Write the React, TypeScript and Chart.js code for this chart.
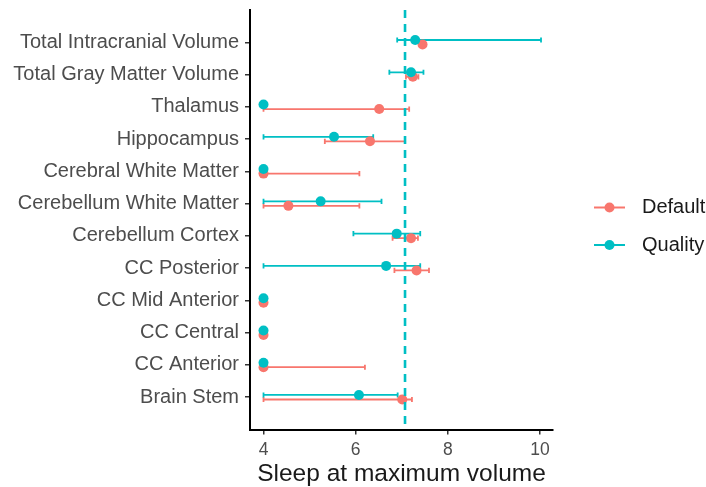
import React, { useEffect, useRef } from "react";
import { Chart, registerables } from "chart.js";

Chart.register(...registerables);

const categories = [
  "Total Intracranial Volume",
  "Total Gray Matter Volume",
  "Thalamus",
  "Hippocampus",
  "Cerebral White Matter",
  "Cerebellum White Matter",
  "Cerebellum Cortex",
  "CC Posterior",
  "CC Mid Anterior",
  "CC Central",
  "CC Anterior",
  "Brain Stem",
];

const defaultValues = [7.45, 7.24, 6.51, 6.31, 4.0, 4.54, 7.2, 7.32, 4.0, 4.0, 4.0, 7.01];
const defaultLow: (number | null)[] = [7.4, 7.09, 4.0, 5.33, 4.0, 4.0, 6.8, 6.84, null, null, 4.0, 4.0];
const defaultHigh: (number | null)[] = [7.52, 7.36, 7.16, 7.07, 6.08, 6.08, 7.35, 7.59, null, null, 6.2, 7.22];

const qualityValues = [7.29, 7.2, 4.0, 5.53, 4.0, 5.24, 6.89, 6.66, 4.0, 4.0, 4.0, 6.07];
const qualityLow: (number | null)[] = [6.9, 6.73, null, 4.0, null, 4.0, 5.95, 4.0, null, null, null, 4.0];
const qualityHigh: (number | null)[] = [10.02, 7.47, null, 6.38, null, 6.56, 7.4, 7.4, null, null, null, 6.91];

const xTicks = [4, 6, 8, 10];
const referenceLine = 7.07;

const seriesNames = ["Default", "Quality"];
const RED = "#F8766D";
const TEAL = "#00BFC4";
const FONT = "'Liberation Sans', Arial, Helvetica, sans-serif";
const DODGE = 0.07;

export default function App() {
  const ref = useRef<HTMLCanvasElement>(null);

  useEffect(() => {
    document.body.style.margin = "0";
    const canvas = ref.current;
    if (!canvas) return;

    const series = [
      { name: seriesNames[0], color: RED, values: defaultValues, low: defaultLow, high: defaultHigh, off: DODGE },
      { name: seriesNames[1], color: TEAL, values: qualityValues, low: qualityLow, high: qualityHigh, off: -DODGE },
    ];

    const plugin = {
      id: "custom",
      beforeDatasetsDraw(chart: any) {
        const { ctx, scales } = chart;
        const xs = scales.x;
        const ys = scales.y;
        ctx.save();
        ctx.lineWidth = 1.8;
        for (const s of series) {
          ctx.strokeStyle = s.color;
          s.values.forEach((_, i) => {
            const lo = s.low[i];
            const hi = s.high[i];
            if (lo == null || hi == null) return;
            const y = ys.getPixelForValue(i + 1 + s.off);
            const cap = Math.abs(ys.getPixelForValue(i + 1 + s.off + 0.08) - y);
            const x1 = xs.getPixelForValue(lo);
            const x2 = xs.getPixelForValue(hi);
            ctx.beginPath();
            ctx.moveTo(x1, y);
            ctx.lineTo(x2, y);
            ctx.moveTo(x1, y - cap);
            ctx.lineTo(x1, y + cap);
            ctx.moveTo(x2, y - cap);
            ctx.lineTo(x2, y + cap);
            ctx.stroke();
          });
        }
        ctx.restore();
      },
      afterDatasetsDraw(chart: any) {
        const { ctx, scales, chartArea } = chart;
        const x = scales.x.getPixelForValue(referenceLine);
        ctx.save();
        ctx.strokeStyle = TEAL;
        ctx.lineWidth = 2.6;
        ctx.setLineDash([8, 6]);
        ctx.beginPath();
        ctx.moveTo(x, chartArea.top);
        ctx.lineTo(x, chartArea.bottom);
        ctx.stroke();
        ctx.restore();
      },
      afterDraw(chart: any) {
        const { ctx } = chart;
        ctx.save();
        const ys = [207.5, 245];
        series.forEach((s, k) => {
          const y = ys[k];
          ctx.strokeStyle = s.color;
          ctx.lineWidth = 2;
          ctx.beginPath();
          ctx.moveTo(594, y);
          ctx.lineTo(625, y);
          ctx.stroke();
          ctx.fillStyle = s.color;
          ctx.beginPath();
          ctx.arc(609.5, y, 5, 0, Math.PI * 2);
          ctx.fill();
          ctx.fillStyle = "#1a1a1a";
          ctx.font = `20px ${FONT}`;
          ctx.textBaseline = "middle";
          ctx.textAlign = "left";
          ctx.fillText(s.name, 642, y);
        });
        ctx.restore();
      },
    };

    const chart = new Chart(canvas, {
      type: "scatter",
      data: {
        datasets: [
          {
            label: seriesNames[1],
            order: 0,
            data: qualityValues.map((v, i) => ({ x: v, y: i + 1 - DODGE })),
            backgroundColor: TEAL,
            borderWidth: 0,
            pointRadius: 5,
          },
          {
            label: seriesNames[0],
            order: 1,
            data: defaultValues.map((v, i) => ({ x: v, y: i + 1 + DODGE })),
            backgroundColor: RED,
            borderWidth: 0,
            pointRadius: 5,
          },
        ],
      },
      options: {
        responsive: false,
        animation: false,
        events: [],
        layout: { padding: { top: 10, right: 153, left: 0, bottom: 0 } },
        plugins: { legend: { display: false }, tooltip: { enabled: false } },
        scales: {
          x: {
            type: "linear",
            min: 3.707,
            max: 10.28,
            afterBuildTicks: (scale: any) => {
              scale.ticks = xTicks.map((v) => ({ value: v }));
            },
            afterFit: (scale: any) => {
              scale.height = 57.5;
              scale.paddingLeft = 0;
              scale.paddingRight = 0;
            },
            border: { display: true, color: "#000", width: 2 },
            grid: { display: true, drawOnChartArea: false, drawTicks: true, tickLength: 5, color: "#333", lineWidth: 1.5 },
            ticks: {
              font: { family: FONT, size: 17.5 },
              color: "#4d4d4d",
              padding: 5,
              maxRotation: 0,
              callback: (v: any) => String(v),
            },
            title: {
              display: true,
              text: "Sleep at maximum volume",
              color: "#1a1a1a",
              font: { family: FONT, size: 24.5, lineHeight: 1 },
              padding: { top: 0, bottom: 1 },
            },
          },
          y: {
            type: "linear",
            reverse: true,
            min: 0,
            max: 13,
            afterBuildTicks: (scale: any) => {
              scale.ticks = categories.map((_, i) => ({ value: i + 1 }));
            },
            afterFit: (scale: any) => {
              scale.width = 250;
              scale.paddingTop = 0;
              scale.paddingBottom = 0;
            },
            border: { display: true, color: "#000", width: 2 },
            grid: { display: true, drawOnChartArea: false, drawTicks: true, tickLength: 5, color: "#333", lineWidth: 1.5 },
            ticks: {
              font: { family: FONT, size: 20 },
              color: "#4d4d4d",
              padding: 6,
              callback: (v: any) => categories[Number(v) - 1] ?? "",
            },
          },
        },
      },
      plugins: [plugin],
    });

    return () => chart.destroy();
  }, []);

  return (
    <div style={{ width: 706, height: 487 }}>
      <canvas ref={ref} width={706} height={487} style={{ display: "block" }} />
    </div>
  );
}
